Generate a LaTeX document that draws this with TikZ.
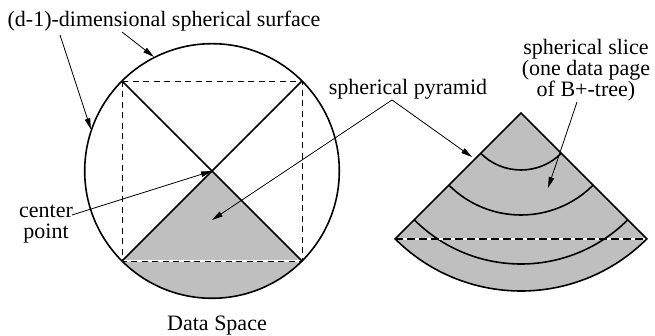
\documentclass[tikz,border=0pt]{standalone}
\usepackage{fontspec}
\setmainfont{Liberation Serif}
\usetikzlibrary{positioning,arrows.meta,calc}

\begin{document}
\begin{tikzpicture}[x=1pt, y=1pt,
  lbl/.style={font=\fontsize{22}{21}\selectfont, inner sep=0pt},
  rim/.style={line width=1.6pt},
  ptr/.style={line width=0.8pt, -{Triangle[length=11pt,width=5.5pt]}},
  gridline/.style={line width=0.9pt, dash pattern=on 6pt off 4.5pt},
  cutline/.style={line width=1.6pt, dash pattern=on 8pt off 4pt},
  slab/.style={fill=black!25}]
  \useasboundingbox (0,0) rectangle (655,336);
  % Data space: sphere, square and pyramid
  \coordinate (o) at (212,165);
  \fill[slab] (o) -- +(225:127.3) arc[start angle=225, end angle=315, radius=127.3] -- cycle;
  \node[circle, draw, rim, minimum size=254.6pt, inner sep=0pt] (sphere) at (o) {};
  \coordinate (sq1) at (122,255);
  \coordinate (sq2) at (302,255);
  \coordinate (sq3) at (302,75);
  \coordinate (sq4) at (122,75);
  \draw[white, line width=1.1pt] (sq4) -- (sq3);
  \draw[gridline] (sq1) rectangle (sq3);
  \draw[rim] (sq1) -- (sq3) (sq2) -- (sq4);
  % Pyramid cut into slices
  \coordinate (apex) at (521,223);
  \fill[slab] (apex) -- +(225:178) arc[start angle=225, end angle=315, radius=178] -- cycle;
  \foreach \r in {57,102,151}
    \draw[rim] (apex) ++(225:\r) arc[start angle=225, end angle=315, radius=\r];
  \coordinate (cl) at ($(apex)+(225:178)$);
  \coordinate (cr) at ($(apex)+(315:178)$);
  \draw[white, line width=1.6pt] (cl) -- (cr);
  \draw[cutline] (cl) -- (cr);
  \draw[rim] (apex) -- (cl) arc[start angle=225, end angle=315, radius=178] -- cycle;
  % Labels
  \node[lbl, anchor=base] (surf) at (164,309) {(d-1)-dimensional spherical surface};
  \node[lbl, align=center] (cpt) at (46,112) {center\\point};
  \node[lbl, anchor=base] (pyr) at (408,241) {spherical pyramid};
  \node[lbl, align=center] (slice) at (586,266) {spherical slice\\(one data page\\of B+-tree)};
  \node[lbl, anchor=base] (space) at (217,5) {Data Space};
  % Pointers
  \coordinate (s1) at (60,301);
  \coordinate (s2) at (122,304);
  \coordinate (s3) at (72,121);
  \coordinate (s4) at (392,236);
  \coordinate (s5) at (577,234);
  \coordinate (inpyr) at (212,116);
  \coordinate (onfan) at (472,179);
  \coordinate (inslice) at (548,148);
  \draw[ptr] (s1) -- (sphere.161);
  \draw[ptr] (s2) -- (sphere.117);
  \draw[ptr] (s3) -- (o);
  \draw[ptr] (s4) -- (inpyr);
  \draw[ptr] (s4) -- (onfan);
  \draw[ptr] (s5) -- (inslice);
\end{tikzpicture}
\end{document}
